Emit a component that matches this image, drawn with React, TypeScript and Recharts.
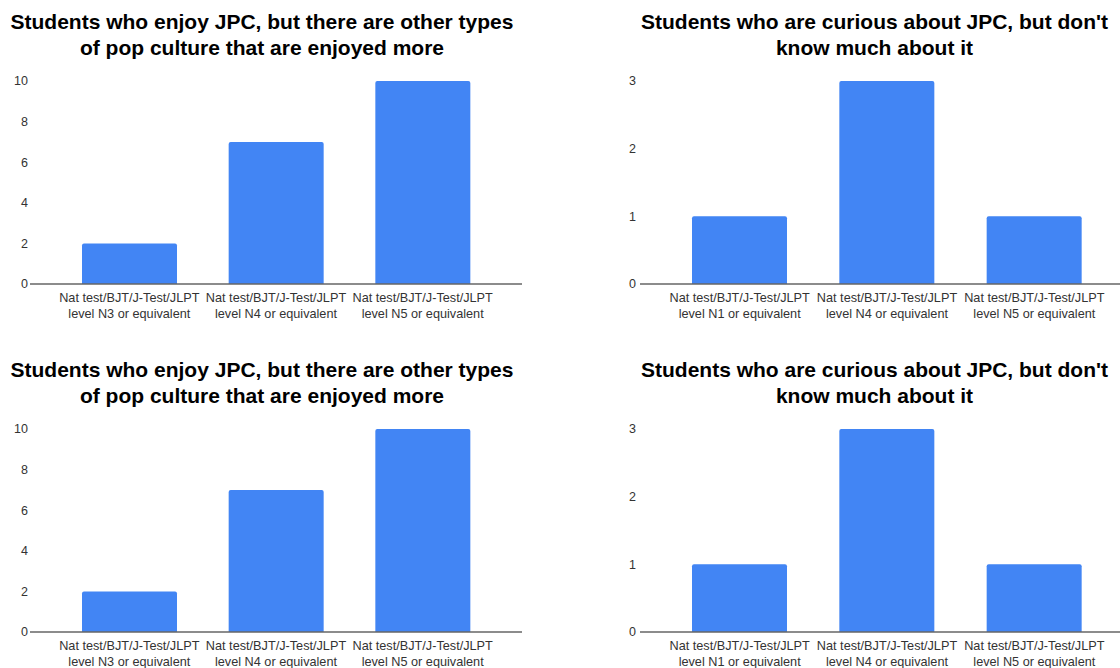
import React from 'react';
import { BarChart, Bar, XAxis, YAxis } from 'recharts';

const enjoyCategories = [
  'Nat test/BJT/J-Test/JLPT level N3 or equivalent',
  'Nat test/BJT/J-Test/JLPT level N4 or equivalent',
  'Nat test/BJT/J-Test/JLPT level N5 or equivalent',
];
const enjoyValues = [2, 7, 10];
const enjoyTicks = [0, 2, 4, 6, 8, 10];

const curiousCategories = [
  'Nat test/BJT/J-Test/JLPT level N1 or equivalent',
  'Nat test/BJT/J-Test/JLPT level N4 or equivalent',
  'Nat test/BJT/J-Test/JLPT level N5 or equivalent',
];
const curiousValues = [1, 3, 1];
const curiousTicks = [0, 1, 2, 3];

const enjoyTitle = ['Students who enjoy JPC, but there are other types', 'of pop culture that are enjoyed more'];
const curiousTitle = ["Students who are curious about JPC, but don't", 'know much about it'];

const FONT = '"Liberation Sans", Arial, sans-serif';

const CategoryTick = ({ x, y, payload }: any) => {
  const label: string = payload.value;
  const i = label.indexOf(' level');
  const first = label.slice(0, i);
  const second = label.slice(i + 1);
  return (
    <text x={x} y={y} textAnchor="middle" fill="#333" fontSize={12.7} fontFamily={FONT}>
      <tspan x={x} dy={18}>{first}</tspan>
      <tspan x={x} dy={16}>{second}</tspan>
    </text>
  );
};

interface PanelProps {
  left: number;
  top: number;
  width: number;
  leftMargin: number;
  yGap: number;
  rightMargin: number;
  titleLeft: number;
  titleWidth: number;
  title: string[];
  categories: string[];
  values: number[];
  ticks: number[];
}

const Panel: React.FC<PanelProps> = (p) => {
  const data = p.categories.map((c, i) => ({ name: c, value: p.values[i] }));
  return (
    <>
      <div
        style={{
          position: 'absolute',
          left: p.titleLeft,
          top: p.top + 9,
          width: p.titleWidth,
          textAlign: 'center',
          fontFamily: FONT,
          fontWeight: 'bold',
          fontSize: 21,
          lineHeight: '26px',
          whiteSpace: 'nowrap',
          color: '#000',
        }}
      >
        {p.title[0]}
        <br />
        {p.title[1]}
      </div>
      <div style={{ position: 'absolute', left: p.left, top: p.top }}>
        <BarChart width={p.width} height={348} data={data} margin={{ top: 81, right: p.rightMargin, bottom: 0, left: p.leftMargin }}>
          <XAxis
            dataKey="name"
            height={64}
            padding={{ left: 26, right: 26 }}
            axisLine={{ stroke: '#666', strokeWidth: 1.5 }}
            tickLine={false}
            tickSize={0}
            tickMargin={0}
            interval={0}
            tick={<CategoryTick />}
          />
          <YAxis
            width={30}
            domain={[0, p.ticks[p.ticks.length - 1]]}
            ticks={p.ticks}
            axisLine={false}
            tickLine={false}
            tickSize={0}
            tickMargin={p.yGap}
            tick={{ fill: '#333', fontSize: 12.5, fontFamily: FONT }}
          />
          <Bar dataKey="value" fill="#4285f4" barSize={95} radius={[2, 2, 0, 0]} isAnimationActive={false} />
        </BarChart>
      </div>
    </>
  );
};

export default function App() {
  return (
    <div style={{ position: 'absolute', left: 0, top: 0, width: 1120, height: 668, overflow: 'hidden', background: '#fff' }}>
      <Panel left={0} top={0} width={560} leftMargin={0} yGap={2} rightMargin={38} titleLeft={0} titleWidth={524}
        title={enjoyTitle} categories={enjoyCategories} values={enjoyValues} ticks={enjoyTicks} />
      <Panel left={560} top={0} width={590} leftMargin={50} yGap={4} rightMargin={16} titleLeft={560} titleWidth={629}
        title={curiousTitle} categories={curiousCategories} values={curiousValues} ticks={curiousTicks} />
      <Panel left={0} top={348} width={560} leftMargin={0} yGap={2} rightMargin={38} titleLeft={0} titleWidth={524}
        title={enjoyTitle} categories={enjoyCategories} values={enjoyValues} ticks={enjoyTicks} />
      <Panel left={560} top={348} width={590} leftMargin={50} yGap={4} rightMargin={16} titleLeft={560} titleWidth={629}
        title={curiousTitle} categories={curiousCategories} values={curiousValues} ticks={curiousTicks} />
    </div>
  );
}
